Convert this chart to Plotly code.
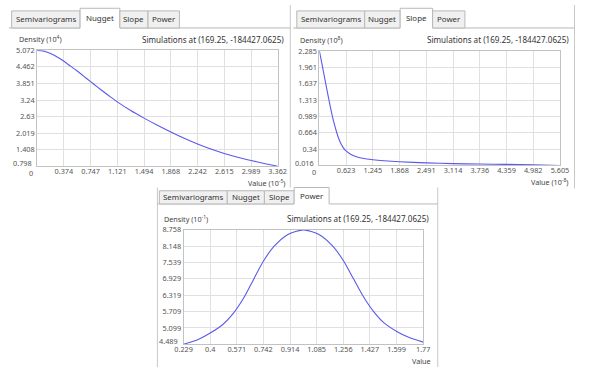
import plotly.graph_objects as go

W, H = 600, 367

# ---------------- data ----------------
tab_names = ["Semivariograms", "Nugget", "Slope", "Power"]
title_text = "Simulations at (169.25, -184427.0625)"

nugget_value = [0, 0.094, 0.187, 0.28, 0.374, 0.467, 0.56, 0.654, 0.747, 0.84, 0.934, 1.028,
                1.121, 1.308, 1.494, 1.681, 1.868, 2.055, 2.242, 2.428, 2.615,
                2.802, 2.989, 3.175, 3.362]
nugget_density = [5.072, 5.045, 4.955, 4.83, 4.67, 4.49, 4.31, 4.115, 3.92, 3.726, 3.535, 3.35,
                  3.173, 2.852, 2.573, 2.311, 2.064, 1.832, 1.621, 1.435, 1.272,
                  1.134, 1.014, 0.902, 0.80]
nugget_xticks = [0.374, 0.747, 1.121, 1.494, 1.868, 2.242, 2.615, 2.989, 3.362]
nugget_yticks = [0.798, 1.408, 2.019, 2.63, 3.24, 3.851, 4.462, 5.072]

slope_value = [0, 0.05, 0.1, 0.15, 0.2, 0.25, 0.3, 0.35, 0.4, 0.45, 0.5, 0.55, 0.6,
               0.7, 0.8, 0.9, 1.0, 1.25, 1.5, 1.868, 2.491, 3.114, 3.736, 4.359, 4.982, 5.605]
slope_density = [2.285, 2.07, 1.85, 1.63, 1.41, 1.20, 1.00, 0.83, 0.68, 0.55, 0.45, 0.375, 0.32,
                 0.255, 0.21, 0.18, 0.16, 0.13, 0.11, 0.089, 0.068, 0.052, 0.044,
                 0.038, 0.029, 0.016]
slope_xticks = [0.623, 1.245, 1.868, 2.491, 3.114, 3.736, 4.359, 4.982, 5.605]
slope_yticks = [0.016, 0.34, 0.664, 0.989, 1.313, 1.637, 1.961, 2.285]

power_value = [0.229, 0.32, 0.40, 0.48, 0.55, 0.62, 0.68, 0.74, 0.81, 0.90, 1.0,
               1.10, 1.19, 1.26, 1.32, 1.38, 1.45, 1.52, 1.60, 1.68, 1.77]
power_density = [4.489, 4.66, 4.91, 5.22, 5.65, 6.26, 6.92, 7.57, 8.14, 8.59, 8.758,
                 8.59, 8.14, 7.58, 6.95, 6.32, 5.72, 5.28, 4.97, 4.74, 4.57]
power_xticks = [0.229, 0.4, 0.571, 0.742, 0.914, 1.085, 1.256, 1.427, 1.599, 1.77]
power_yticks = [4.489, 5.099, 5.709, 6.319, 6.929, 7.539, 8.148, 8.758]

# ---------------- helpers ----------------
FONT = "Noto Sans, Open Sans, Liberation Sans, sans-serif"
LINE = "rgb(90,90,235)"
GRID = "#e0e0e0"
BORDER = "#c2c2c2"
TABLINE = "#b8b8b8"
TICKFONT = dict(family=FONT, size=7.3, color="#555")


def px(x):
    return x / W


def py(y):
    return 1 - y / H


panels = [
    dict(active=1, x=nugget_value, y=nugget_density,
         xt=nugget_xticks, yt=nugget_yticks, xr=[0, 3.362], yr=[0.798, 5.072],
         plot=(29, 277, 46, 163.5), left=0, right=290, top=0, bottom=185,
         tab_y=(6, 23.3, 3.3),
         tabs=[(2.7, 73.3), (73.3, 114.3), (114.3, 143.3), (143.3, 175.7)],
         dens="Density (10<sup>4</sup>)", val="Value (10<sup>-5</sup>)", zero=True),
    dict(active=2, x=slope_value, y=slope_density,
         xt=slope_xticks, yt=slope_yticks, xr=[0, 5.605], yr=[0.016, 2.285],
         plot=(320, 568, 46.7, 162.7), left=293, right=583, top=0, bottom=186,
         tab_y=(6, 23.3, 3.3),
         tabs=[(296.7, 366.7), (366.7, 403.3), (403.3, 436.7), (436.7, 470)],
         dens="Density (10<sup>8</sup>)", val="Value (10<sup>-8</sup>)", zero=True),
    dict(active=3, x=power_value, y=power_density,
         xt=power_xticks, yt=power_yticks, xr=[0.229, 1.77], yr=[4.489, 8.758],
         plot=(180, 427, 228, 344), left=153, right=442, top=185, bottom=367,
         tab_y=(188.3, 201.7, 185),
         tabs=[(155, 225), (225, 263.3), (263.3, 294), (294, 330)],
         dens="Density (10<sup>-1</sup>)", val="Value", zero=False),
]

fig = go.Figure()
shapes = []
annotations = []
layout_axes = {}

for i, p in enumerate(panels):
    k = "" if i == 0 else str(i + 1)
    x0, x1, y0, y1 = p["plot"]
    fig.add_trace(go.Scatter(x=p["x"], y=p["y"], mode="lines",
                             line=dict(color=LINE, width=1.1, shape="spline", smoothing=0.7),
                             xaxis="x" + k, yaxis="y" + k, showlegend=False,
                             hoverinfo="skip"))
    layout_axes["xaxis" + k] = dict(
        domain=[px(x0), px(x1)], range=p["xr"], anchor="y" + k,
        tickvals=p["xt"], ticktext=[str(v) for v in p["xt"]],
        showgrid=True, gridcolor=GRID, gridwidth=1, zeroline=False,
        showline=True, linecolor=BORDER, mirror=True, ticks="",
        ticklabelstandoff=-2, tickfont=TICKFONT, fixedrange=True)
    # bottom y label is lifted a little in the original, so it is drawn separately
    ytext = [str(v) for v in p["yt"]]
    ytext[0] = ""
    layout_axes["yaxis" + k] = dict(
        domain=[py(y1), py(y0)], range=p["yr"], anchor="x" + k,
        tickvals=p["yt"], ticktext=ytext,
        showgrid=True, gridcolor=GRID, gridwidth=1, zeroline=False,
        showline=True, linecolor=BORDER, mirror=True, ticks="",
        tickfont=TICKFONT, fixedrange=True)
    annotations.append(dict(xref="paper", yref="paper", x=px(x0 - 3.5), y=py(y1 - 3),
                            text=str(p["yt"][0]), showarrow=False,
                            xanchor="right", yanchor="middle", font=TICKFONT))

    # panel borders
    shapes.append(dict(type="line", xref="paper", yref="paper",
                       x0=px(p["right"]), x1=px(p["right"]), y0=py(p["top"]), y1=py(p["bottom"]),
                       line=dict(color="#c8c8c8", width=1)))
    if i == 2:
        shapes.append(dict(type="line", xref="paper", yref="paper",
                           x0=px(p["left"]), x1=px(p["left"]), y0=py(p["top"]), y1=py(p["bottom"]),
                           line=dict(color="#c8c8c8", width=1)))

    # tab strip
    ty0, ty1, tya = p["tab_y"]
    ax0, ax1 = p["tabs"][p["active"]]
    shapes.append(dict(type="line", xref="paper", yref="paper",
                       x0=px(p["left"]), x1=px(ax0), y0=py(ty1), y1=py(ty1),
                       line=dict(color=TABLINE, width=1)))
    shapes.append(dict(type="line", xref="paper", yref="paper",
                       x0=px(ax1), x1=px(p["right"]), y0=py(ty1), y1=py(ty1),
                       line=dict(color=TABLINE, width=1)))
    for j, (tx0, tx1) in enumerate(p["tabs"]):
        if j == p["active"]:
            shapes.append(dict(type="path", xref="paper", yref="paper",
                               path=f"M {px(tx0)},{py(ty1)} L {px(tx0)},{py(tya)} "
                                    f"L {px(tx1)},{py(tya)} L {px(tx1)},{py(ty1)}",
                               fillcolor="white", line=dict(color=TABLINE, width=1)))
            cy = (tya + ty1) / 2
        else:
            shapes.append(dict(type="rect", xref="paper", yref="paper",
                               x0=px(tx0), x1=px(tx1), y0=py(ty1), y1=py(ty0),
                               fillcolor="#f0f0f0", line=dict(color=TABLINE, width=1)))
            cy = (ty0 + ty1) / 2
        annotations.append(dict(xref="paper", yref="paper", x=px((tx0 + tx1) / 2), y=py(cy),
                                text=tab_names[j], showarrow=False, xanchor="center",
                                yanchor="middle",
                                font=dict(family=FONT, size=7.9, color="#333")))

    # header texts
    hy = y0 - 11.5
    annotations.append(dict(xref="paper", yref="paper", x=px(p["left"] + (8 if i == 0 else 5)),
                            y=py(hy), text=p["dens"], showarrow=False,
                            xanchor="left", yanchor="middle",
                            font=dict(family=FONT, size=7.2, color="#444")))
    annotations.append(dict(xref="paper", yref="paper",
                            x=px(p["right"] - 4 if i < 2 else p["right"] - 7),
                            y=py(hy), text=title_text, showarrow=False,
                            xanchor="right", yanchor="middle",
                            font=dict(family=FONT, size=8.1, color="#333")))
    annotations.append(dict(xref="paper", yref="paper", x=px(x1 + 10),
                            y=py(y1 + 16.5), text=p["val"], showarrow=False,
                            xanchor="right", yanchor="middle",
                            font=dict(family=FONT, size=7.2, color="#444")))
    if p["zero"]:
        annotations.append(dict(xref="paper", yref="paper", x=px(x0 - 6),
                                y=py(y1 + 6.5), text="0", showarrow=False,
                                xanchor="center", yanchor="middle", font=TICKFONT))

fig.update_layout(width=W, height=H, margin=dict(l=0, r=0, t=0, b=0),
                  paper_bgcolor="white", plot_bgcolor="white", hovermode=False,
                  shapes=shapes, annotations=annotations, **layout_axes)

fig.write_html("out.html", config={"displayModeBar": False, "staticPlot": True},
               post_script="document.body.style.margin='0';document.body.style.overflow='hidden';")
